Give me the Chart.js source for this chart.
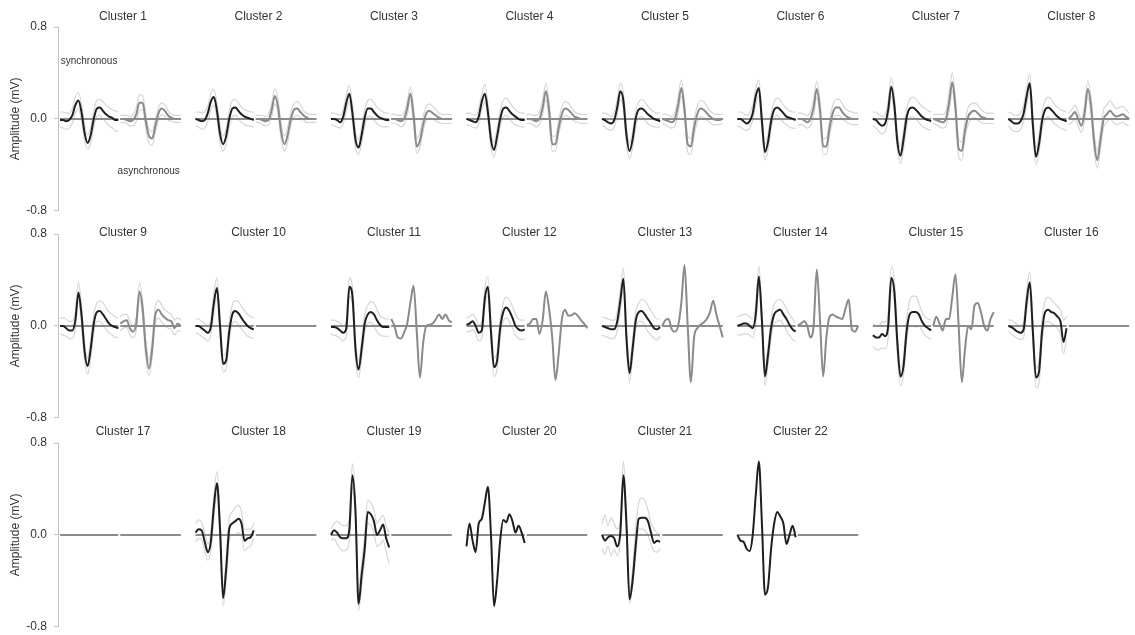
<!DOCTYPE html>
<html>
<head>
<meta charset="utf-8">
<script src="https://cdn.jsdelivr.net/npm/chart.js@4.4.1/dist/chart.umd.min.js"></script>
<style>
  body { margin: 0; background: #fff; overflow: hidden; }
  #wrap { position: relative; width: 1135px; height: 635px; overflow: hidden; }
  #wrap canvas { position: absolute; left: 0; }
</style>
</head>
<body>
<div id="wrap">
  <canvas id="row1" width="1135" height="225" style="top:0px"></canvas>
  <canvas id="row2" width="1135" height="225" style="top:207px"></canvas>
  <canvas id="row3" width="1135" height="225" style="top:416px"></canvas>
</div>
<script>
const clusterNames = [];
for (let i = 1; i <= 22; i++) clusterNames.push('Cluster ' + i);

const yTicks = [-0.8, 0, 0.8];

// mean waveform of synchronous spikes (mV), 20 samples each, null = none
const syncMean = [
  [-0.01,-0.01,-0.02,-0.01,0.03,0.12,0.16,0.06,-0.12,-0.21,-0.14,0.0,0.09,0.10,0.07,0.04,0.02,0.01,-0.01,-0.01],
  [0,-0.01,-0.02,-0.01,0.05,0.15,0.19,0.07,-0.13,-0.22,-0.15,0.0,0.09,0.10,0.07,0.04,0.02,0.01,0,-0.01],
  [0,0,-0.01,-0.03,0.02,0.14,0.22,0.05,-0.18,-0.25,-0.14,0.01,0.09,0.09,0.06,0.03,0.01,0,-0.01,-0.01],
  [0,-0.01,-0.02,-0.03,0.02,0.15,0.22,0.06,-0.18,-0.27,-0.15,0.0,0.09,0.1,0.07,0.04,0.02,0,-0.01,-0.01],
  [0,-0.01,-0.03,-0.04,-0.01,0.1,0.24,0.16,-0.14,-0.28,-0.18,0.0,0.08,0.09,0.07,0.04,0.02,0.0,-0.01,-0.02],
  [0,0,-0.02,-0.04,-0.02,0.05,0.2,0.27,-0.02,-0.29,-0.2,-0.02,0.08,0.1,0.08,0.05,0.02,0.01,0,-0.01],
  [0,-0.01,-0.04,-0.06,-0.04,0.08,0.28,0.12,-0.2,-0.32,-0.18,0.01,0.09,0.1,0.08,0.05,0.02,0,-0.01,-0.02],
  [0,-0.02,-0.04,-0.04,-0.02,0.05,0.2,0.31,-0.05,-0.33,-0.22,-0.02,0.08,0.1,0.08,0.05,0.02,0,-0.01,-0.02],
  [0,0,-0.02,-0.04,-0.04,0.05,0.29,0.1,-0.22,-0.35,-0.2,0.02,0.12,0.13,0.1,0.06,0.02,0,-0.01,-0.02],
  [0,0,-0.02,-0.04,-0.06,-0.01,0.2,0.33,0.0,-0.33,-0.3,-0.05,0.1,0.13,0.11,0.07,0.03,0.0,-0.02,-0.03],
  [-0.01,-0.01,-0.02,-0.04,-0.06,-0.02,0.34,0.26,-0.2,-0.38,-0.2,0.02,0.1,0.12,0.1,0.05,0.01,-0.01,-0.01,-0.01],
  [0.01,0.02,0.04,0.0,-0.06,-0.04,0.24,0.34,-0.05,-0.36,-0.3,-0.02,0.12,0.16,0.13,0.07,0.0,-0.03,-0.04,-0.03],
  [0,-0.01,-0.02,-0.03,-0.03,0.04,0.22,0.41,-0.1,-0.41,-0.2,0.04,0.12,0.13,0.1,0.06,0.02,-0.02,-0.03,-0.01],
  [0,0.01,0.02,0.02,0.0,-0.02,0.1,0.43,0.05,-0.44,-0.25,-0.02,0.1,0.13,0.14,0.1,0.06,0.01,-0.03,-0.05],
  [-0.08,-0.1,-0.1,-0.07,-0.09,0.0,0.42,0.3,-0.15,-0.44,-0.35,-0.05,0.1,0.12,0.12,0.1,0.04,0.0,-0.02,-0.04],
  [0,-0.01,-0.03,-0.05,-0.06,-0.03,0.22,0.38,-0.05,-0.45,-0.4,-0.05,0.12,0.14,0.12,0.11,0.08,0.04,-0.14,-0.02],
  null,
  [0.02,0.05,0.04,-0.06,-0.15,-0.06,0.25,0.45,0.05,-0.55,-0.3,0.05,0.1,0.12,0.14,0.1,-0.05,-0.03,-0.02,0.04],
  [0,0.04,0.02,-0.02,-0.03,-0.03,0.05,0.52,0.2,-0.6,-0.35,-0.12,0.2,0.18,0.12,0.0,0.04,0.09,-0.03,-0.11],
  [-0.1,0.1,-0.05,-0.15,0.1,0.14,0.28,0.42,0.0,-0.62,-0.4,-0.05,0.13,0.11,0.18,0.12,0.02,0.08,0.02,-0.07],
  [0,-0.05,-0.02,-0.01,-0.03,-0.1,0.02,0.52,0.1,-0.56,-0.4,-0.1,0.14,0.15,0.15,0.12,0.02,-0.07,-0.05,-0.06],
  [0,-0.05,-0.06,-0.12,-0.14,0.0,0.35,0.64,0.1,-0.52,-0.45,-0.12,0.1,0.2,0.16,0.1,-0.08,0.0,0.08,-0.02]
];

const syncUpper = [
  [0.06,0.06,0.05,0.05,0.09,0.19,0.23,0.13,-0.05,-0.14,-0.07,0.07,0.16,0.17,0.15,0.12,0.1,0.08,0.07,0.06],
  [0.06,0.06,0.05,0.06,0.11,0.22,0.26,0.14,-0.06,-0.15,-0.08,0.07,0.16,0.17,0.14,0.1,0.08,0.07,0.06,0.06],
  [0.05,0.05,0.04,0.03,0.08,0.21,0.29,0.12,-0.11,-0.18,-0.07,0.08,0.16,0.17,0.14,0.1,0.08,0.06,0.05,0.05],
  [0.05,0.05,0.04,0.03,0.09,0.22,0.3,0.13,-0.11,-0.2,-0.08,0.07,0.16,0.18,0.15,0.11,0.08,0.06,0.05,0.05],
  [0.05,0.05,0.04,0.02,0.06,0.17,0.31,0.23,-0.07,-0.21,-0.11,0.07,0.15,0.17,0.15,0.11,0.08,0.06,0.05,0.05],
  [0.06,0.06,0.05,0.03,0.05,0.12,0.27,0.34,0.05,-0.22,-0.13,0.05,0.15,0.18,0.16,0.12,0.09,0.07,0.06,0.06],
  [0.06,0.06,0.04,0.02,0.04,0.16,0.36,0.2,-0.12,-0.24,-0.1,0.09,0.17,0.19,0.17,0.14,0.11,0.09,0.07,0.06],
  [0.06,0.05,0.03,0.03,0.05,0.12,0.28,0.39,0.03,-0.26,-0.14,0.06,0.16,0.19,0.17,0.13,0.1,0.08,0.07,0.06],
  [0.07,0.07,0.06,0.04,0.04,0.13,0.38,0.18,-0.14,-0.28,-0.12,0.1,0.2,0.22,0.2,0.16,0.12,0.1,0.08,0.07],
  [0.06,0.06,0.04,0.02,0.0,0.06,0.29,0.42,0.08,-0.26,-0.22,0.03,0.18,0.22,0.21,0.17,0.13,0.1,0.08,0.07],
  [0.05,0.05,0.04,0.02,0.0,0.05,0.42,0.34,-0.12,-0.3,-0.12,0.1,0.18,0.21,0.2,0.14,0.09,0.07,0.06,0.06],
  [0.07,0.08,0.1,0.07,0.01,0.04,0.33,0.43,0.03,-0.28,-0.22,0.06,0.2,0.25,0.23,0.17,0.1,0.06,0.05,0.05],
  [0.08,0.07,0.06,0.05,0.05,0.12,0.31,0.5,-0.02,-0.33,-0.12,0.12,0.2,0.23,0.22,0.18,0.13,0.09,0.06,0.06],
  [0.08,0.09,0.1,0.1,0.08,0.06,0.19,0.52,0.13,-0.36,-0.17,0.06,0.19,0.22,0.23,0.2,0.15,0.1,0.06,0.03],
  [0.02,0.0,0.0,0.04,0.03,0.12,0.52,0.4,-0.05,-0.36,-0.27,0.05,0.22,0.26,0.26,0.2,0.12,0.08,0.06,0.05],
  [0.05,0.05,0.03,0.01,0.0,0.04,0.31,0.47,0.03,-0.37,-0.3,0.06,0.22,0.25,0.23,0.2,0.17,0.14,0.05,0.08],
  null,
  [0.1,0.13,0.11,0.02,-0.08,0.03,0.35,0.55,0.14,-0.45,-0.2,0.15,0.2,0.24,0.26,0.2,0.05,0.05,0.05,0.1],
  [0.05,0.1,0.12,0.1,0.08,0.08,0.15,0.62,0.3,-0.48,-0.25,0.0,0.3,0.28,0.22,0.1,0.14,0.17,0.08,0.02],
  null,
  [0.1,0.17,0.08,0.15,0.1,0.05,0.12,0.64,0.2,-0.5,-0.3,0.05,0.28,0.32,0.3,0.22,0.1,0.05,0.02,-0.02],
  null
];

const syncLower = [
  [-0.07,-0.08,-0.09,-0.08,-0.04,0.05,0.09,-0.01,-0.19,-0.26,-0.21,-0.07,0.02,0.03,0.0,-0.03,-0.06,-0.08,-0.1,-0.11],
  [-0.06,-0.07,-0.09,-0.08,-0.02,0.08,0.12,0.0,-0.2,-0.28,-0.22,-0.07,0.02,0.03,0.0,-0.03,-0.05,-0.06,-0.06,-0.07],
  [-0.05,-0.06,-0.07,-0.08,-0.04,0.07,0.15,-0.02,-0.25,-0.31,-0.21,-0.06,0.02,0.02,-0.01,-0.04,-0.06,-0.07,-0.07,-0.07],
  [-0.05,-0.06,-0.07,-0.08,-0.04,0.08,0.15,-0.01,-0.25,-0.33,-0.22,-0.07,0.02,0.03,0.0,-0.03,-0.05,-0.06,-0.07,-0.07],
  [-0.05,-0.07,-0.09,-0.1,-0.07,0.03,0.17,0.09,-0.21,-0.35,-0.25,-0.07,0.01,0.02,-0.01,-0.04,-0.06,-0.07,-0.07,-0.08],
  [-0.06,-0.07,-0.09,-0.1,-0.08,-0.01,0.13,0.2,-0.09,-0.36,-0.27,-0.09,0.01,0.03,0.0,-0.03,-0.05,-0.07,-0.08,-0.08],
  [-0.06,-0.08,-0.11,-0.13,-0.11,0.0,0.2,0.04,-0.27,-0.39,-0.26,-0.07,0.01,0.02,0.0,-0.03,-0.06,-0.08,-0.09,-0.1],
  [-0.06,-0.09,-0.11,-0.11,-0.09,-0.02,0.12,0.23,-0.13,-0.4,-0.29,-0.09,0.0,0.02,-0.01,-0.04,-0.06,-0.08,-0.09,-0.1],
  [-0.07,-0.08,-0.09,-0.11,-0.11,-0.03,0.21,0.02,-0.29,-0.42,-0.28,-0.06,0.04,0.04,0.01,-0.03,-0.06,-0.08,-0.1,-0.1],
  [-0.06,-0.07,-0.09,-0.11,-0.13,-0.08,0.12,0.25,-0.08,-0.4,-0.37,-0.12,0.02,0.04,0.01,-0.03,-0.06,-0.09,-0.1,-0.11],
  [-0.07,-0.08,-0.09,-0.11,-0.13,-0.09,0.26,0.18,-0.28,-0.45,-0.28,-0.06,0.02,0.03,0.0,-0.05,-0.08,-0.09,-0.09,-0.09],
  [-0.05,-0.05,-0.03,-0.07,-0.13,-0.11,0.16,0.26,-0.13,-0.44,-0.38,-0.1,0.04,0.07,0.04,-0.02,-0.08,-0.11,-0.12,-0.11],
  [-0.08,-0.09,-0.1,-0.11,-0.11,-0.04,0.13,0.32,-0.18,-0.49,-0.28,-0.04,0.04,0.04,0.0,-0.05,-0.08,-0.11,-0.12,-0.09],
  [-0.08,-0.08,-0.07,-0.07,-0.08,-0.1,0.02,0.34,-0.03,-0.52,-0.33,-0.1,0.02,0.04,0.05,0.01,-0.04,-0.08,-0.12,-0.13],
  [-0.18,-0.2,-0.21,-0.19,-0.2,-0.1,0.32,0.2,-0.25,-0.52,-0.43,-0.13,0.0,0.0,-0.01,0.0,-0.04,-0.08,-0.1,-0.12],
  [-0.05,-0.07,-0.09,-0.11,-0.12,-0.1,0.13,0.29,-0.13,-0.54,-0.5,-0.15,0.03,0.04,0.02,0.01,-0.02,-0.08,-0.24,-0.12],
  null,
  [-0.06,-0.03,-0.04,-0.14,-0.22,-0.14,0.15,0.36,-0.04,-0.62,-0.4,-0.05,0.0,0.0,0.02,0.0,-0.14,-0.11,-0.1,-0.03],
  [-0.05,-0.03,-0.08,-0.12,-0.14,-0.13,-0.05,0.42,0.1,-0.66,-0.45,-0.22,0.1,0.08,0.02,-0.1,-0.08,-0.05,-0.15,-0.25],
  null,
  [-0.12,-0.17,-0.1,-0.18,-0.13,-0.18,-0.05,0.45,0.0,-0.6,-0.45,-0.2,0.05,0.05,0.04,0.0,-0.08,-0.14,-0.15,-0.12],
  null
];

// mean waveform of asynchronous spikes (mV)
const asyncMean = [
  [0,0,-0.01,-0.02,-0.01,0.04,0.14,0.14,-0.02,-0.15,-0.17,-0.06,0.05,0.09,0.07,0.03,0.01,0,0,0],
  [0,0,-0.01,-0.02,-0.01,0.08,0.2,0.1,-0.12,-0.22,-0.14,0.0,0.08,0.09,0.06,0.03,0.01,0,0,0],
  [0,0,-0.01,-0.02,0.0,0.09,0.22,0.03,-0.24,-0.19,-0.05,0.05,0.07,0.05,0.03,0.01,0,0,0,0],
  [0,0,-0.01,-0.02,0.0,0.1,0.24,0.08,-0.22,-0.22,-0.08,0.04,0.09,0.08,0.05,0.02,0.01,0,0,0],
  [0,-0.01,-0.02,-0.03,0.0,0.12,0.27,0.08,-0.22,-0.24,-0.08,0.04,0.09,0.08,0.05,0.02,0.0,-0.01,-0.01,0],
  [0,0,-0.01,-0.03,0.0,0.1,0.26,0.08,-0.24,-0.24,-0.08,0.05,0.1,0.1,0.06,0.03,0.01,0,0,0],
  [0,-0.01,-0.02,-0.03,0.0,0.14,0.32,0.1,-0.26,-0.28,-0.1,0.02,0.06,0.07,0.05,0.02,0.01,0,0,0],
  [0,0.03,0.06,0.0,-0.06,0.05,0.26,0.12,-0.2,-0.36,-0.18,0.0,0.04,0.07,0.04,0.02,0.03,0.04,0.02,0],
  [0.02,0.04,0.05,-0.02,-0.05,0.02,0.3,0.15,-0.2,-0.37,-0.2,0.1,0.14,0.1,0.07,0.05,0.04,-0.02,0.02,0],
  null,
  [0.06,0.0,-0.1,-0.11,-0.06,0.02,0.2,0.35,-0.05,-0.45,-0.15,0.0,0.01,0.02,0.06,0.1,0.06,0.1,0.05,0.03],
  [0.01,0.02,0.06,0.06,-0.07,0.05,0.3,0.15,-0.1,-0.47,-0.25,0.05,0.14,0.09,0.09,0.11,0.09,0.05,0.02,-0.02],
  [0,0.05,0.06,-0.03,-0.05,0.0,0.2,0.53,0.0,-0.49,-0.1,-0.02,0.01,0.03,0.06,0.12,0.22,0.1,0.0,-0.1],
  [0,0.02,0.04,0.0,-0.1,0.0,0.49,0.05,-0.44,-0.1,0.08,0.1,0.08,0.07,0.06,0.15,0.23,-0.03,-0.05,0],
  [0,0.08,0.02,-0.04,0.06,0.06,0.25,0.45,0.0,-0.49,-0.2,0.0,-0.03,0.18,0.2,0.12,0.0,-0.04,0.06,0.12],
  null, null, null, null, null, null, null
];

const asyncUpper = [
  [0.03,0.03,0.03,0.02,0.04,0.1,0.21,0.2,0.04,-0.09,-0.11,0.0,0.1,0.14,0.12,0.07,0.04,0.03,0.03,0.03],
  [0.03,0.03,0.03,0.02,0.04,0.14,0.26,0.17,-0.05,-0.15,-0.07,0.06,0.13,0.15,0.12,0.07,0.05,0.04,0.04,0.04],
  [0.04,0.04,0.03,0.03,0.05,0.15,0.28,0.1,-0.17,-0.12,0.02,0.11,0.13,0.11,0.08,0.05,0.04,0.04,0.04,0.04],
  [0.04,0.04,0.03,0.03,0.06,0.17,0.31,0.15,-0.15,-0.15,-0.01,0.1,0.15,0.14,0.1,0.06,0.05,0.04,0.04,0.04],
  [0.04,0.04,0.03,0.02,0.06,0.19,0.34,0.15,-0.15,-0.17,-0.01,0.11,0.16,0.15,0.11,0.07,0.05,0.04,0.04,0.04],
  [0.05,0.05,0.04,0.03,0.06,0.17,0.33,0.15,-0.17,-0.17,-0.01,0.12,0.17,0.17,0.13,0.09,0.07,0.06,0.05,0.05],
  [0.04,0.04,0.04,0.04,0.07,0.23,0.4,0.18,-0.18,-0.2,-0.02,0.1,0.13,0.14,0.12,0.08,0.06,0.05,0.05,0.05],
  [0.05,0.08,0.12,0.06,0.0,0.12,0.33,0.2,-0.12,-0.28,-0.1,0.08,0.12,0.16,0.12,0.09,0.1,0.11,0.08,0.05],
  [0.08,0.1,0.1,0.04,0.0,0.08,0.38,0.22,-0.12,-0.3,-0.12,0.17,0.22,0.18,0.14,0.12,0.1,0.05,0.07,0.05],
  null, null, null, null, null, null, null, null, null, null, null, null, null
];

const asyncLower = [
  [-0.03,-0.03,-0.04,-0.06,-0.06,-0.02,0.07,0.08,-0.08,-0.21,-0.23,-0.12,-0.01,0.04,0.02,-0.01,-0.02,-0.03,-0.03,-0.03],
  [-0.03,-0.03,-0.05,-0.06,-0.05,0.02,0.13,0.04,-0.18,-0.28,-0.2,-0.05,0.02,0.03,0.01,-0.01,-0.03,-0.03,-0.03,-0.03],
  [-0.04,-0.04,-0.05,-0.07,-0.05,0.03,0.16,-0.04,-0.3,-0.25,-0.11,-0.01,0.01,0.0,-0.02,-0.03,-0.04,-0.04,-0.04,-0.04],
  [-0.04,-0.04,-0.05,-0.07,-0.05,0.04,0.17,0.01,-0.28,-0.28,-0.14,-0.02,0.03,0.02,0.0,-0.02,-0.03,-0.04,-0.04,-0.04],
  [-0.04,-0.05,-0.07,-0.08,-0.06,0.05,0.2,0.01,-0.29,-0.31,-0.15,-0.03,0.02,0.01,-0.01,-0.03,-0.05,-0.05,-0.05,-0.04],
  [-0.05,-0.05,-0.06,-0.08,-0.06,0.03,0.19,0.01,-0.31,-0.31,-0.15,-0.02,0.03,0.03,0.0,-0.02,-0.04,-0.05,-0.05,-0.05],
  [-0.04,-0.05,-0.07,-0.08,-0.06,0.06,0.24,0.03,-0.33,-0.36,-0.17,-0.05,0.0,0.01,-0.01,-0.03,-0.04,-0.04,-0.04,-0.04],
  [-0.05,-0.03,0.0,-0.06,-0.12,-0.02,0.19,0.05,-0.27,-0.43,-0.25,-0.07,-0.03,0.0,-0.03,-0.05,-0.04,-0.03,-0.05,-0.06],
  [-0.04,-0.02,-0.01,-0.08,-0.1,-0.04,0.23,0.08,-0.27,-0.43,-0.27,0.03,0.07,0.03,0.0,-0.02,-0.03,-0.08,-0.04,-0.05],
  null, null, null, null, null, null, null, null, null, null, null, null, null
];

// horizontal layout of one cluster, in cluster-width units
const SYNC_START = 0.015, SYNC_W = 0.43;
const ASYNC_START = 0.46, ASYNC_W = 0.447;
const PER_ROW = 8;

function toPoints(values, col, start, width) {
  return values.map((v, j) => ({ x: col + start + j / (values.length - 1) * width, y: v }));
}

// lower "order" is drawn on top
function lineSet(data, color, width, order) {
  return {
    data: data,
    borderColor: color,
    borderWidth: width,
    pointRadius: 0,
    fill: false,
    order: order,
    cubicInterpolationMode: 'monotone'
  };
}

function buildRow(row) {
  const sets = [];
  for (let k = row * PER_ROW; k < Math.min((row + 1) * PER_ROW, clusterNames.length); k++) {
    const col = k - row * PER_ROW;
    const parts = [
      [syncMean[k], syncUpper[k], syncLower[k], SYNC_START, SYNC_W, '#1f1f1f'],
      [asyncMean[k], asyncUpper[k], asyncLower[k], ASYNC_START, ASYNC_W, '#8a8a8a']
    ];
    parts.forEach(([mean, hi, lo, start, w, color]) => {
      if (hi) sets.push(lineSet(toPoints(hi, col, start, w), '#d6d6d6', 1.2, 3));
      if (lo) sets.push(lineSet(toPoints(lo, col, start, w), '#d6d6d6', 1.2, 3));
      sets.push(lineSet(toPoints([0, 0], col, start, w), '#8c8c8c', 2, 2));
      if (mean) sets.push(lineSet(toPoints(mean, col, start, w), color, 2, 1));
    });
  }
  return sets;
}

const titlePlugin = {
  id: 'clusterTitles',
  afterDraw(chart) {
    const opts = chart.options.plugins.clusterTitles;
    const { ctx, chartArea, scales } = chart;
    ctx.save();
    ctx.font = '12px "Liberation Sans", Arial, sans-serif';
    ctx.fillStyle = '#333';
    ctx.textAlign = 'center';
    ctx.textBaseline = 'middle';
    for (let i = 0; i < opts.count; i++) {
      ctx.fillText(clusterNames[opts.first + i], scales.x.getPixelForValue(i + 0.48), chartArea.top + opts.offset);
    }
    ctx.font = '10px "Liberation Sans", Arial, sans-serif';
    ctx.textAlign = 'left';
    (opts.notes || []).forEach(n => {
      ctx.fillText(n.text, scales.x.getPixelForValue(n.x), scales.y.getPixelForValue(n.y));
    });
    ctx.restore();
  }
};

const titleOffsets = [-10, -1, -11];

['row1', 'row2', 'row3'].forEach((id, row) => {
  const first = row * PER_ROW;
  new Chart(document.getElementById(id), {
    type: 'line',
    data: { datasets: buildRow(row) },
    plugins: [titlePlugin],
    options: {
      responsive: false,
      animation: false,
      layout: { padding: { top: 27, bottom: 0, left: 0, right: 0 } },
      plugins: {
        legend: { display: false },
        tooltip: { enabled: false },
        clusterTitles: {
          first: first,
          count: Math.min(PER_ROW, clusterNames.length - first),
          offset: titleOffsets[row],
          notes: row === 0 ? [
            { text: 'synchronous', x: 0.02, y: 0.5 },
            { text: 'asynchronous', x: 0.44, y: -0.46 }
          ] : []
        }
      },
      scales: {
        x: { type: 'linear', min: 0, max: 7.95, display: false },
        y: {
          min: -0.8,
          max: 0.8,
          afterBuildTicks: scale => { scale.ticks = yTicks.map(v => ({ value: v })); },
          afterFit: scale => { scale.width = 58; },
          ticks: {
            callback: v => v.toFixed(1),
            color: '#333',
            padding: 7,
            font: { size: 12, family: '"Liberation Sans", Arial, sans-serif' }
          },
          grid: { drawOnChartArea: false, drawTicks: true, tickLength: 4, color: '#c4c4c4' },
          border: { display: true, color: '#c4c4c4' },
          title: {
            display: true,
            text: 'Amplitude (mV)',
            color: '#333',
            padding: { top: 8, bottom: 0 },
            font: { size: 12, family: '"Liberation Sans", Arial, sans-serif' }
          }
        }
      }
    }
  });
});
</script>
</body>
</html>
